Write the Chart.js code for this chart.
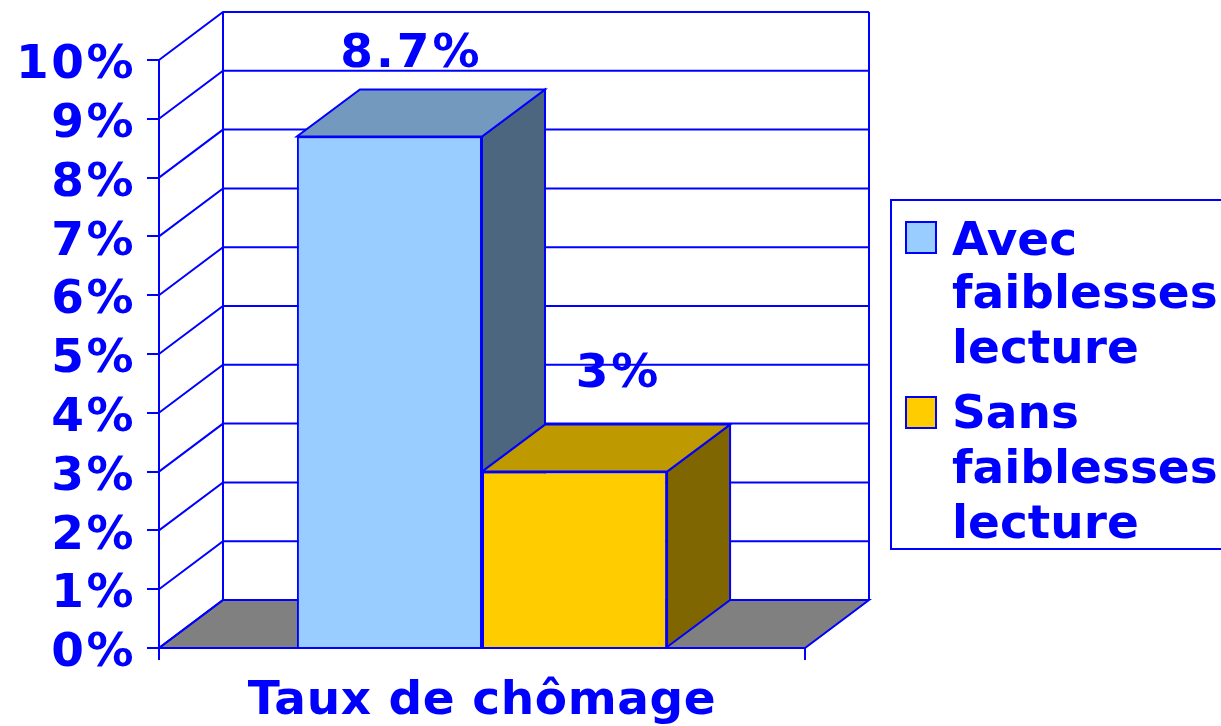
<!DOCTYPE html>
<html><head><meta charset="utf-8">
<style>html,body{margin:0;padding:0;background:#fff}canvas{display:block}</style>
<script src="https://cdn.jsdelivr.net/npm/chart.js@4"></script></head>
<body><canvas id="c" width="1221" height="726"></canvas>
<script>
const categories = ['Taux de chômage'];
const seriesNames = ['Avec faiblesses lecture', 'Sans faiblesses lecture'];
const avecValues = [8.7];
const sansValues = [3];
const valueLabels = ['8.7%', '3%'];
const legendLines = [['Avec', 'faiblesses', 'lecture'], ['Sans', 'faiblesses', 'lecture']];

const BLUE = '#0000ff';
const FONT = '"DejaVu Sans"';
const FS = 47;
const depth = {x: 64, y: -48};
const barDepth = {x: 63, y: -47};
const faces = [
  {front: '#99ccff', top: '#7399bf', side: '#4d6680'},
  {front: '#ffcc00', top: '#bf9900', side: '#806600'}
];
const labelOffsets = [{x: 22, y: -82}, {x: 44, y: -97}];

function poly(ctx, pts, fill) {
  ctx.beginPath();
  pts.forEach((p, i) => i ? ctx.lineTo(p[0], p[1]) : ctx.moveTo(p[0], p[1]));
  ctx.closePath();
  if (fill) { ctx.fillStyle = fill; ctx.fill(); }
  ctx.stroke();
}

function tuneAxisLabels(scale, spacing, shiftY) {
  if (scale._tuned) return;
  scale._tuned = true;
  const ctx = scale.ctx, draw = scale.drawLabels;
  scale.drawLabels = function (area) {
    ctx.save();
    ctx.letterSpacing = spacing;
    ctx.translate(0, shiftY);
    draw.call(this, area);
    ctx.restore();
  };
}

const scene3d = {
  id: 'scene3d',
  beforeDraw(chart) {
    tuneAxisLabels(chart.scales.y, '2.5px', 6);
    tuneAxisLabels(chart.scales.x, '0.6px', 4);
  },
  beforeDatasetsDraw(chart) {
    const {ctx, chartArea: a, scales: {y}} = chart;
    ctx.save();
    ctx.strokeStyle = BLUE; ctx.lineWidth = 2; ctx.lineJoin = 'miter';
    poly(ctx, [[a.left, a.bottom], [a.right, a.bottom], [a.right + depth.x, a.bottom + depth.y], [a.left + depth.x, a.bottom + depth.y]], '#808080');
    y.ticks.forEach(t => {
      const py = y.getPixelForValue(t.value);
      ctx.beginPath();
      ctx.moveTo(a.left, py);
      ctx.lineTo(a.left + depth.x, py + depth.y);
      ctx.lineTo(a.right + depth.x, py + depth.y);
      ctx.stroke();
    });
    ctx.beginPath();
    ctx.moveTo(a.left + depth.x, a.top + depth.y);
    ctx.lineTo(a.left + depth.x, a.bottom + depth.y);
    ctx.moveTo(a.right + depth.x, a.top + depth.y);
    ctx.lineTo(a.right + depth.x, a.bottom + depth.y);
    ctx.stroke();
    chart.data.datasets.forEach((ds, i) => {
      const b = chart.getDatasetMeta(i).data[0];
      const l = b.x - b.width / 2, r = b.x + b.width / 2, t = b.y, bo = b.base;
      const f = faces[i];
      poly(ctx, [[r, bo], [r + barDepth.x, bo + barDepth.y], [r + barDepth.x, t + barDepth.y], [r, t]], f.side);
      poly(ctx, [[l, t], [r, t], [r + barDepth.x, t + barDepth.y], [l + barDepth.x, t + barDepth.y]], f.top);
    });
    ctx.restore();
  },
  afterDraw(chart) {
    const {ctx} = chart;
    ctx.save();
    ctx.fillStyle = BLUE;
    ctx.font = 'bold ' + FS + 'px ' + FONT;
    ctx.textAlign = 'center'; ctx.textBaseline = 'middle';
    ctx.letterSpacing = '3px';
    chart.data.datasets.forEach((ds, i) => {
      const b = chart.getDatasetMeta(i).data[0];
      ctx.fillText(valueLabels[i], b.x + labelOffsets[i].x, b.y + labelOffsets[i].y);
    });
    ctx.letterSpacing = '0px';
    // legend
    ctx.strokeStyle = BLUE; ctx.lineWidth = 2;
    ctx.fillStyle = '#fff';
    ctx.beginPath(); ctx.rect(891, 200, 340, 349); ctx.fill(); ctx.stroke();
    const swatchY = [222, 397], baselines = [[255, 308, 363], [428, 483, 538]];
    ctx.textAlign = 'left'; ctx.textBaseline = 'alphabetic';
    ctx.font = 'bold ' + FS + 'px ' + FONT;
    legendLines.forEach((lines, i) => {
      ctx.fillStyle = faces[i].front;
      ctx.beginPath(); ctx.rect(906, swatchY[i], 30, 31); ctx.fill(); ctx.stroke();
      ctx.fillStyle = BLUE;
      lines.forEach((s, j) => ctx.fillText(s, 952, baselines[i][j]));
    });
    ctx.restore();
  }
};

new Chart(document.getElementById('c'), {
  type: 'bar',
  data: {
    labels: categories,
    datasets: [
      {label: seriesNames[0], data: avecValues, backgroundColor: faces[0].front, borderColor: BLUE, borderWidth: 2},
      {label: seriesNames[1], data: sansValues, backgroundColor: faces[1].front, borderColor: BLUE, borderWidth: 2}
    ]
  },
  options: {
    responsive: false, animation: false,
    devicePixelRatio: 1,
    layout: {padding: {left: 0, top: 60, right: 416, bottom: 0}},
    plugins: {legend: {display: false}, tooltip: {enabled: false}, title: {display: false}},
    datasets: {bar: {barPercentage: 1, categoryPercentage: 0.573}},
    scales: {
      x: {
        grid: {drawOnChartArea: false, drawTicks: true, tickLength: 12, color: BLUE, lineWidth: 2, offset: true},
        border: {color: BLUE, width: 2},
        ticks: {color: BLUE, font: {family: FONT, size: FS, weight: 'bold'}, padding: 10, maxRotation: 0},
        afterFit(s) { s.height = 78; }
      },
      y: {
        min: 0, max: 10,
        grid: {drawOnChartArea: false, drawTicks: true, tickLength: 12, color: BLUE, lineWidth: 2},
        border: {color: BLUE, width: 2},
        ticks: {stepSize: 1, autoSkip: false, color: BLUE, font: {family: FONT, size: FS, weight: 'bold'}, padding: 11, callback: v => v + '%'},
        afterFit(s) { s.width = 159; }
      }
    }
  },
  plugins: [scene3d]
});
</script></body></html>
